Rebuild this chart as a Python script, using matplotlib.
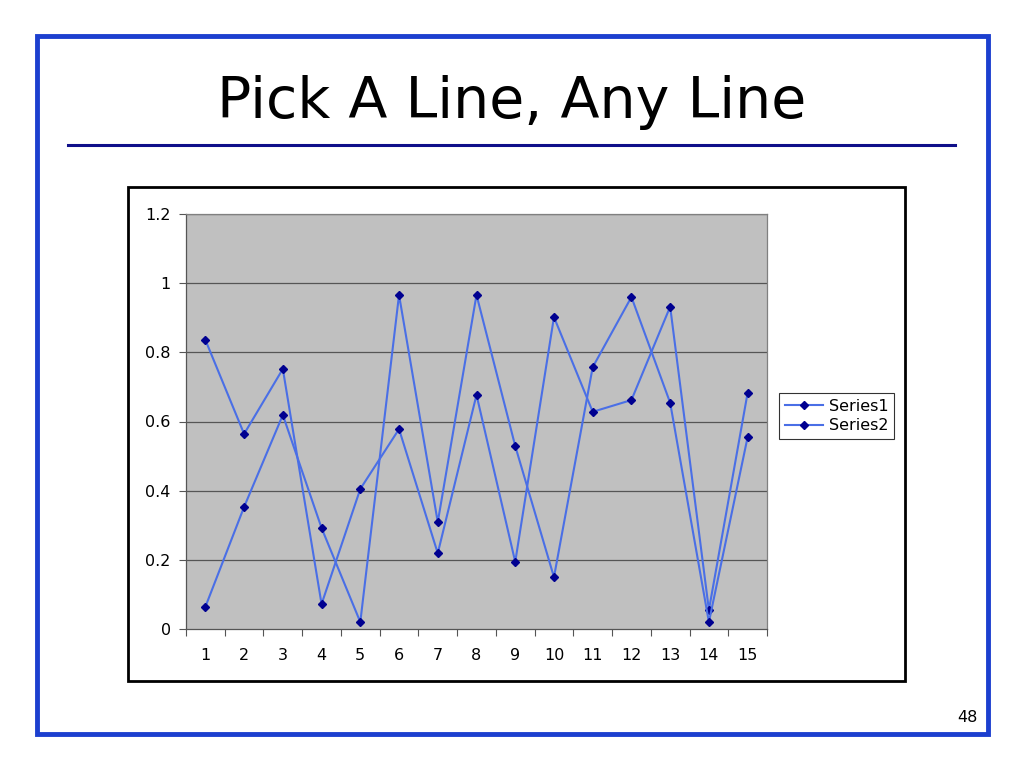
import numpy as np
import matplotlib.pyplot as plt
import matplotlib.patches as patches
from matplotlib.lines import Line2D

W, H = 1024, 768

categories = list(range(1, 16))
series1 = [0.836, 0.564, 0.752, 0.072, 0.405, 0.578, 0.219, 0.677, 0.194, 0.902,
           0.628, 0.662, 0.932, 0.055, 0.683]
series2 = [0.064, 0.353, 0.619, 0.292, 0.020, 0.966, 0.309, 0.966, 0.529, 0.150,
           0.757, 0.960, 0.654, 0.020, 0.555]
series_names = ['Series1', 'Series2']
y_ticks = [0, 0.2, 0.4, 0.6, 0.8, 1.0, 1.2]
y_ticklabels = ['0', '0.2', '0.4', '0.6', '0.8', '1', '1.2']


def fx(px):
    return px / W


def fy(py):
    return 1 - py / H


fig = plt.figure(figsize=(W / 100, H / 100), dpi=100)
fig.patch.set_facecolor('white')

# slide frame
fig.patches.append(patches.Rectangle((fx(37), fy(734)), fx(988) - fx(37), fy(36) - fy(734),
                                     transform=fig.transFigure, fill=False,
                                     edgecolor='#1c3fcf', lw=3.5))
# title and rule
fig.text(fx(512), fy(103), 'Pick A Line, Any Line', ha='center', va='center',
         fontsize=41, family='DejaVu Sans', color='black')
fig.add_artist(Line2D([fx(68), fx(955)], [fy(145), fy(145)], transform=fig.transFigure,
                      color='#10108a', lw=2.2))
fig.text(fx(978), fy(718), '48', ha='right', va='center', fontsize=11.5, color='black')

# chart box
fig.patches.append(patches.Rectangle((fx(128), fy(681)), fx(905) - fx(128), fy(187) - fy(681),
                                     transform=fig.transFigure, fill=False,
                                     edgecolor='black', lw=2))

ax = fig.add_axes([fx(186), fy(629), fx(767) - fx(186), fy(214) - fy(629)])
ax.set_facecolor('#c0c0c0')
ax.set_xlim(0.5, 15.5)
ax.set_ylim(0, 1.2)
ax.set_yticks(y_ticks)
ax.set_yticklabels(y_ticklabels)
ax.set_xticks(categories)
ax.set_xticks(np.arange(0.5, 16, 1), minor=True)
ax.tick_params(axis='x', which='major', length=0, pad=14, labelsize=11.5)
ax.tick_params(axis='x', which='minor', length=5, width=0.8, direction='out', color='#555555')
ax.tick_params(axis='y', length=5, width=0.8, direction='out', pad=6, labelsize=11.5,
               color='#555555')
for y in y_ticks[1:]:
    ax.axhline(y, color='#555555', lw=0.9, zorder=1)
for side in ['top', 'right']:
    ax.spines[side].set_color('#808080')
    ax.spines[side].set_linewidth(0.9)
for side in ['left', 'bottom']:
    ax.spines[side].set_color('#555555')
    ax.spines[side].set_linewidth(0.9)

for vals, name in zip([series1, series2], series_names):
    ax.plot(categories, vals, color='#4a6fe6', lw=1.5, marker='D', markersize=4.5,
            markerfacecolor='#000090', markeredgecolor='#000090', label=name, zorder=3)

leg = fig.legend(loc='upper left', bbox_to_anchor=(fx(779), fy(393)), fontsize=11.5,
                 frameon=True, fancybox=False, edgecolor='black', borderpad=0.35,
                 handlelength=2.4, handletextpad=0.35, labelspacing=0.3, borderaxespad=0,
                 markerscale=0.85)
leg.get_frame().set_linewidth(0.8)

fig.savefig('out.png', dpi=100)
